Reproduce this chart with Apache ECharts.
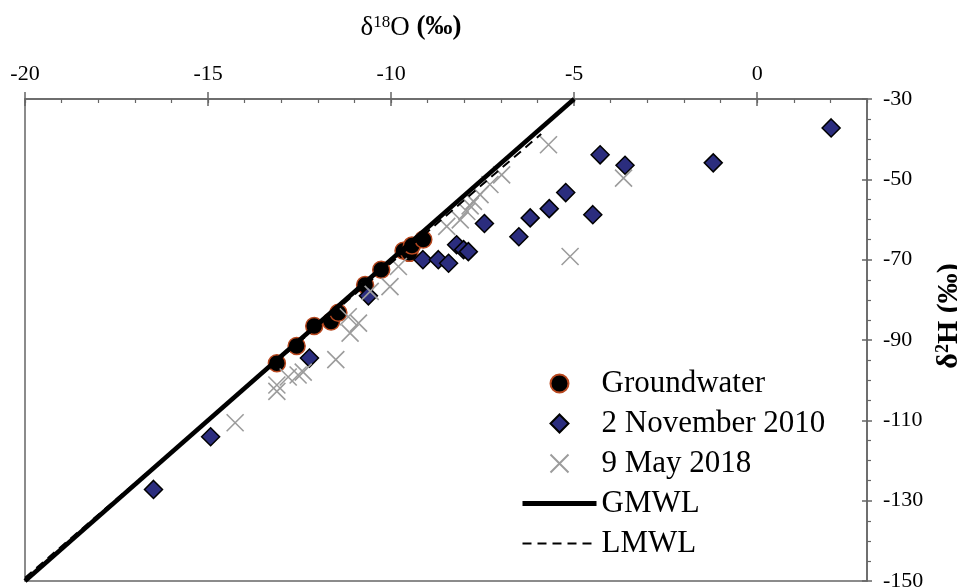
<!DOCTYPE html>
<html><head><meta charset="utf-8">
<script src="https://cdn.jsdelivr.net/npm/echarts@6/dist/echarts.min.js"></script>
<style>html,body{margin:0;padding:0;background:#fff}#c{width:957px;height:587px}</style>
</head><body><div id="c"></div>
<script>
// Groundwater
const gwX = [-13.12,-12.58,-12.10,-11.64,-11.44,-10.71,-10.27,-9.66,-9.50,-9.43,-9.12];
const gwY = [-95.8,-91.5,-86.5,-85.4,-83.2,-76.3,-72.5,-67.8,-68.3,-66.5,-65.0];
// 2 November 2010
const nov10X = [-16.49,-14.93,-12.23,-10.62,-9.13,-8.71,-8.43,-8.21,-8.02,-7.89,-7.45,-6.51,-6.20,-5.68,-5.23,-4.49,-4.29,-3.61,-1.20,2.02];
const nov10Y = [-127.2,-114.1,-94.5,-79.0,-70.0,-70.0,-70.9,-66.3,-67.5,-68.0,-61.0,-64.3,-59.6,-57.3,-53.3,-58.8,-43.9,-46.5,-45.9,-37.2];
// 9 May 2018
const may18X = [-14.26,-13.12,-13.12,-12.81,-12.54,-12.40,-11.51,-11.12,-10.89,-11.17,-10.57,-10.03,-9.80,-8.48,-8.11,-7.93,-7.84,-7.75,-7.57,-7.30,-6.98,-5.70,-5.11,-3.65];
const may18Y = [-110.6,-101.2,-102.8,-99.2,-98.7,-98.0,-94.9,-88.3,-85.8,-84.2,-77.9,-76.7,-71.7,-61.7,-60.1,-58.0,-56.6,-55.5,-53.8,-51.3,-48.9,-41.4,-69.2,-49.7];
// Meteoric water lines
const gmwlX = [-20, -5];
const gmwlY = [-150, -30];
const lmwlX = [-20, -5.9];
const lmwlY = [-149.2, -38.7];
// Axis ticks
const xMajorTicks = [-20, -15, -10, -5, 0];
const xMin = -20, xMax = 3;
const yMin = -150, yMax = -30, yStep = 20;

const names = ['Groundwater', '2 November 2010', '9 May 2018', 'GMWL', 'LMWL'];
const pairs = (xs, ys) => xs.map((x, i) => [x, ys[i]]);

const FONT = 'Liberation Serif';
const AXC = '#666666';

function xAx(extra) {
  return Object.assign({
    type: 'value', position: 'top', min: xMin, max: xMax, interval: 5,
    axisLine: { show: false, onZero: false },
    axisLabel: { show: false }, splitLine: { show: false },
    axisTick: { show: false }
  }, extra);
}
function yAx(extra) {
  return Object.assign({
    type: 'value', position: 'right', min: yMin, max: yMax, interval: yStep,
    axisLine: { show: false, onZero: false },
    axisLabel: { show: false }, splitLine: { show: false },
    axisTick: { show: false }
  }, extra);
}

const chart = echarts.init(document.getElementById('c'), null, { renderer: 'canvas' });
chart.setOption({
  animation: false,
  backgroundColor: '#ffffff',
  grid: { left: 25, right: 90, top: 99, bottom: 6, outerBoundsMode: 'none', containLabel: false,
          show: true, borderColor: AXC, borderWidth: 1.5, backgroundColor: 'transparent' },
  xAxis: [
    xAx({
      axisLine: { show: true, onZero: false, lineStyle: { color: AXC, width: 1.5 } },
      axisTick: { show: true, inside: false, length: 7, customValues: xMajorTicks, lineStyle: { color: AXC, width: 1.5 } },
      axisLabel: { show: true, customValues: xMajorTicks, margin: 14, fontFamily: FONT, fontSize: 22, color: '#000' },
      name: 'δ{sup|18}O {b|(‰)}',
      nameLocation: 'middle', nameGap: 58,
      nameTextStyle: { fontFamily: FONT, fontSize: 27, color: '#000', padding: [0, 70, 0, 0],
        rich: { sup: { fontFamily: FONT, fontSize: 17, verticalAlign: 'top', color: '#000' },
                b: { fontFamily: FONT, fontSize: 27, fontWeight: 'bold', color: '#000' } } }
    }),
    xAx({ axisTick: { show: true, inside: true, length: 7, customValues: xMajorTicks, lineStyle: { color: AXC, width: 1.5 } } }),
    xAx({ interval: 1, axisTick: { show: true, inside: true, length: 4, lineStyle: { color: AXC, width: 1.2 } } })
  ],
  yAxis: [
    yAx({
      axisLine: { show: true, onZero: false, lineStyle: { color: AXC, width: 1.5 } },
      axisTick: { show: true, inside: false, length: 5, lineStyle: { color: AXC, width: 1.5 } },
      minorTick: { show: true, splitNumber: 4, length: 4, lineStyle: { color: AXC, width: 1.2 } },
      axisLabel: { show: true, margin: 16, fontFamily: FONT, fontSize: 22, color: '#000' },
      name: 'δ{sup|2}H (‰)',
      nameLocation: 'middle', nameRotate: 90, nameGap: 63,
      nameTextStyle: { fontFamily: FONT, fontSize: 30, fontWeight: 'bold', color: '#000', padding: [0, 0, 0, 48],
        rich: { sup: { fontFamily: FONT, fontSize: 18, fontWeight: 'bold', verticalAlign: 'top', color: '#000' } } }
    }),
    yAx({ axisTick: { show: true, inside: true, length: 5, lineStyle: { color: AXC, width: 1.5 } } })
  ],
  legend: {
    orient: 'vertical', left: 515, top: 363,
    itemWidth: 74, itemHeight: 18, itemGap: 9,
    textStyle: { fontFamily: FONT, fontSize: 31, lineHeight: 31, color: '#000' },
    data: [
      { name: names[0] },
      { name: names[1], icon: 'path://M5,0L10,5L5,10L0,5Z' },
      { name: names[2] },
      { name: names[3], lineStyle: { width: 5 }, itemStyle: { opacity: 0 } },
      { name: names[4], lineStyle: { width: 2 }, itemStyle: { opacity: 0 } }
    ],
    selectedMode: false
  },
  series: [
    { name: names[0], type: 'scatter', xAxisIndex: 0, yAxisIndex: 0, data: pairs(gwX, gwY),
      symbol: 'circle', symbolSize: 17,
      itemStyle: { color: '#000000', borderColor: '#b8481f', borderWidth: 1.5, opacity: 1 } },
    { name: names[1], type: 'scatter', xAxisIndex: 0, yAxisIndex: 0, data: pairs(nov10X, nov10Y),
      symbol: 'diamond', symbolSize: 18,
      itemStyle: { color: '#2b2d7e', borderColor: '#000000', borderWidth: 1.5, opacity: 1 } },
    { name: names[2], type: 'scatter', xAxisIndex: 0, yAxisIndex: 0, data: pairs(may18X, may18Y),
      symbol: 'path://M0,0L10,10M10,0L0,10', symbolSize: 17,
      itemStyle: { color: 'transparent', borderColor: '#9c9c9c', borderWidth: 1.6, opacity: 1 } },
    { name: names[3], type: 'line', xAxisIndex: 0, yAxisIndex: 0, data: pairs(gmwlX, gmwlY),
      symbol: 'none', lineStyle: { color: '#000', width: 4.5 }, itemStyle: { color: '#000' } },
    { name: names[4], type: 'line', xAxisIndex: 0, yAxisIndex: 0, data: pairs(lmwlX, lmwlY),
      symbol: 'none', lineStyle: { color: '#000', width: 2, type: [9, 6] }, itemStyle: { color: '#000' } }
  ]
});
</script></body></html>
